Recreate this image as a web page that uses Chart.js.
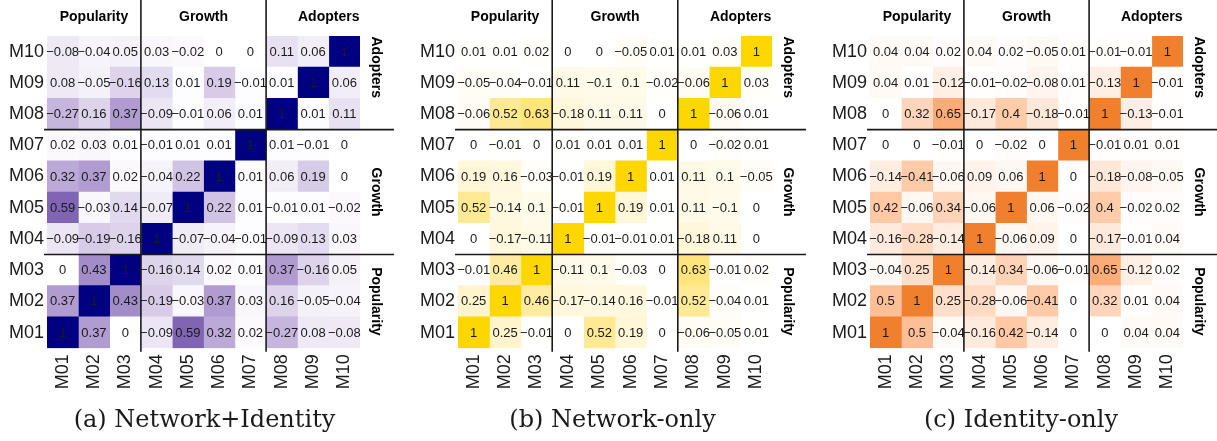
<!DOCTYPE html>
<html>
<head>
<meta charset="utf-8">
<script src="https://cdn.jsdelivr.net/npm/chart.js@4/dist/chart.umd.min.js"></script>
<style>
  html, body { margin: 0; padding: 0; background: #fff; }
  .panel { position: absolute; top: 0; width: 407px; height: 441px; }
</style>
</head>
<body>
<div class="panel" style="left:0px"><canvas id="chartA"></canvas></div>
<div class="panel" style="left:405px"><canvas id="chartB"></canvas></div>
<div class="panel" style="left:810px"><canvas id="chartC"></canvas></div>
<script>
// labels
const colLabels = ["M01", "M02", "M03", "M04", "M05", "M06", "M07", "M08", "M09", "M10"];
const rowLabels = colLabels.slice().reverse(); // top to bottom

// groups (column/row numbers). Adopters strip is centred as if it had a 4th slot
const groupNames = ["Popularity", "Growth", "Adopters"];
const groupFirst = [1, 4, 8];
const groupLast = [3, 7, 11];
const groupBreaks = [3.5, 7.5];

// correlation matrices, rows M01..M10, columns M01..M10
const netIdentity = [
  [1, 0.37, 0, -0.09, 0.59, 0.32, 0.02, -0.27, 0.08, -0.08],
  [0.37, 1, 0.43, -0.19, -0.03, 0.37, 0.03, 0.16, -0.05, -0.04],
  [0, 0.43, 1, -0.16, 0.14, 0.02, 0.01, 0.37, -0.16, 0.05],
  [-0.09, -0.19, -0.16, 1, -0.07, -0.04, -0.01, -0.09, 0.13, 0.03],
  [0.59, -0.03, 0.14, -0.07, 1, 0.22, 0.01, -0.01, 0.01, -0.02],
  [0.32, 0.37, 0.02, -0.04, 0.22, 1, 0.01, 0.06, 0.19, 0],
  [0.02, 0.03, 0.01, -0.01, 0.01, 0.01, 1, 0.01, -0.01, 0],
  [-0.27, 0.16, 0.37, -0.09, -0.01, 0.06, 0.01, 1, 0.01, 0.11],
  [0.08, -0.05, -0.16, 0.13, 0.01, 0.19, -0.01, 0.01, 1, 0.06],
  [-0.08, -0.04, 0.05, 0.03, -0.02, 0, 0, 0.11, 0.06, 1],
];

const networkOnly = [
  [1, 0.25, -0.01, 0, 0.52, 0.19, 0, -0.06, -0.05, 0.01],
  [0.25, 1, 0.46, -0.17, -0.14, 0.16, -0.01, 0.52, -0.04, 0.01],
  [-0.01, 0.46, 1, -0.11, 0.1, -0.03, 0, 0.63, -0.01, 0.02],
  [0, -0.17, -0.11, 1, -0.01, -0.01, 0.01, -0.18, 0.11, 0],
  [0.52, -0.14, 0.1, -0.01, 1, 0.19, 0.01, 0.11, -0.1, 0],
  [0.19, 0.16, -0.03, -0.01, 0.19, 1, 0.01, 0.11, 0.1, -0.05],
  [0, -0.01, 0, 0.01, 0.01, 0.01, 1, 0, -0.02, 0.01],
  [-0.06, 0.52, 0.63, -0.18, 0.11, 0.11, 0, 1, -0.06, 0.01],
  [-0.05, -0.04, -0.01, 0.11, -0.1, 0.1, -0.02, -0.06, 1, 0.03],
  [0.01, 0.01, 0.02, 0, 0, -0.05, 0.01, 0.01, 0.03, 1],
];

const identityOnly = [
  [1, 0.5, -0.04, -0.16, 0.42, -0.14, 0, 0, 0.04, 0.04],
  [0.5, 1, 0.25, -0.28, -0.06, -0.41, 0, 0.32, 0.01, 0.04],
  [-0.04, 0.25, 1, -0.14, 0.34, -0.06, -0.01, 0.65, -0.12, 0.02],
  [-0.16, -0.28, -0.14, 1, -0.06, 0.09, 0, -0.17, -0.01, 0.04],
  [0.42, -0.06, 0.34, -0.06, 1, 0.06, -0.02, 0.4, -0.02, 0.02],
  [-0.14, -0.41, -0.06, 0.09, 0.06, 1, 0, -0.18, -0.08, -0.05],
  [0, 0, -0.01, 0, -0.02, 0, 1, -0.01, 0.01, 0.01],
  [0, 0.32, 0.65, -0.17, 0.4, -0.18, -0.01, 1, -0.13, -0.01],
  [0.04, 0.01, -0.12, -0.01, -0.02, -0.08, 0.01, -0.13, 1, -0.01],
  [0.04, 0.04, 0.02, 0.04, 0.02, -0.05, 0.01, -0.01, -0.01, 1],
];

// ======================
// COLOUR (Lab interpolation white -> high)
// ======================
const lin = (c) => { c /= 255; return c <= 0.04045 ? c / 12.92 : Math.pow((c + 0.055) / 1.055, 2.4); };
const unlin = (c) => { const v = c <= 0.0031308 ? 12.92 * c : 1.055 * Math.pow(c, 1 / 2.4) - 0.055; return Math.round(Math.max(0, Math.min(1, v)) * 255); };

function hexToLab(hex) {
  const r = lin(parseInt(hex.slice(1, 3), 16));
  const g = lin(parseInt(hex.slice(3, 5), 16));
  const b = lin(parseInt(hex.slice(5, 7), 16));
  const f = (t) => (t > 0.008856 ? Math.cbrt(t) : 7.787 * t + 16 / 116);
  const fx = f((0.4124 * r + 0.3576 * g + 0.1805 * b) / 0.95047);
  const fy = f(0.2126 * r + 0.7152 * g + 0.0722 * b);
  const fz = f((0.0193 * r + 0.1192 * g + 0.9505 * b) / 1.08883);
  return [116 * fy - 16, 500 * (fx - fy), 200 * (fy - fz)];
}

function labToRgb([L, a, b]) {
  const fy = (L + 16) / 116, fx = fy + a / 500, fz = fy - b / 200;
  const inv = (t) => (t > 0.206893 ? t * t * t : (t - 16 / 116) / 7.787);
  const X = inv(fx) * 0.95047, Y = inv(fy), Z = inv(fz) * 1.08883;
  const r = 3.2406 * X - 1.5372 * Y - 0.4986 * Z;
  const g = -0.9689 * X + 1.8758 * Y + 0.0415 * Z;
  const bl = 0.0557 * X - 0.204 * Y + 1.057 * Z;
  return `rgb(${unlin(r)},${unlin(g)},${unlin(bl)})`;
}

function makeScale(high) {
  const lo = hexToLab("#ffffff"), hi = hexToLab(high);
  return (v) => {
    const t = Math.min(1, Math.abs(v));
    return labToRgb(lo.map((c, i) => c + (hi[i] - c) * t));
  };
}

const fmt = (v) => (v < 0 ? "\u2212" : "") + String(Math.abs(v));

// ======================
// OVERLAY PLUGIN (cell text, group lines, strips)
// ======================
const overlay = {
  id: "overlay",
  afterDatasetsDraw(chart) {
    const ctx = chart.ctx;
    ctx.save();
    ctx.font = "13px 'Liberation Sans', Arial, sans-serif";
    ctx.fillStyle = "#1a1a1a";
    ctx.textAlign = "center";
    ctx.textBaseline = "middle";
    chart.data.datasets.forEach((ds, j) => {
      chart.getDatasetMeta(j).data.forEach((bar, r) => {
        ctx.fillText(fmt(ds.values[r]), (bar.x + bar.base) / 2, bar.y + 0.5);
      });
    });
    ctx.restore();
  },
  afterDraw(chart) {
    const ctx = chart.ctx;
    const area = chart.chartArea;
    const xs = chart.scales.x;
    const ys = chart.scales.y;
    const rowPx = (k) => ys.getPixelForValue(10 - k);
    ctx.save();
    ctx.strokeStyle = "#1a1a1a";
    ctx.lineWidth = 1.6;
    groupBreaks.forEach((b) => {
      const x = xs.getPixelForValue(b);
      ctx.beginPath();
      ctx.moveTo(x, 0);
      ctx.lineTo(x, area.bottom + 3.5);
      ctx.stroke();
      const y = rowPx(b);
      ctx.beginPath();
      ctx.moveTo(area.left - 3, y);
      ctx.lineTo(area.right + 34, y);
      ctx.stroke();
    });

    ctx.fillStyle = "#000";
    ctx.font = "bold 14px 'Liberation Sans', Arial, sans-serif";
    ctx.textAlign = "center";
    ctx.textBaseline = "middle";
    groupNames.forEach((name, g) => {
      const mid = (groupFirst[g] + groupLast[g]) / 2;
      ctx.fillText(name, xs.getPixelForValue(mid), area.top - 19);
      ctx.save();
      ctx.translate(area.right + 16, rowPx(mid));
      ctx.rotate(Math.PI / 2);
      ctx.fillText(name, 0, 0);
      ctx.restore();
    });
    ctx.restore();
  },
};

// ======================
// CHARTS
// ======================
function buildChart(id, matrix, high, caption, padLeft, padRight) {
  const color = makeScale(high);
  const datasets = colLabels.map((c, j) => ({
    label: c,
    data: rowLabels.map(() => [j + 0.5, j + 1.5]),
    values: rowLabels.map((_, r) => matrix[9 - r][j]),
    backgroundColor: rowLabels.map((_, r) => color(matrix[9 - r][j])),
    borderWidth: 0,
    inflateAmount: 0.4,
    grouped: false,
    barPercentage: 1,
    categoryPercentage: 1,
  }));

  return new Chart(document.getElementById(id), {
    type: "bar",
    data: { labels: rowLabels, datasets },
    options: {
      indexAxis: "y",
      responsive: true,
      maintainAspectRatio: false,
      animation: false,
      events: [],
      layout: { padding: { left: padLeft, right: 0, top: 36, bottom: 0 } },
      scales: {
        x: {
          type: "linear",
          min: 0.5,
          max: 10.5,
          grid: { display: false, drawTicks: false },
          border: { display: false },
          afterBuildTicks: (s) => { s.ticks = colLabels.map((_, i) => ({ value: i + 1 })); },
          afterFit: (s) => { s.height = 58; },
          ticks: {
            autoSkip: false,
            minRotation: 90,
            maxRotation: 90,
            padding: 6,
            color: "#1a1a1a",
            font: { family: "'Liberation Sans', Arial, sans-serif", size: 18 },
            callback: (v) => colLabels[v - 1],
          },
        },
        y: {
          type: "category",
          offset: true,
          grid: { display: false, drawTicks: false },
          border: { display: false },
          afterFit: (s) => { s.width = 45; },
          ticks: {
            padding: 3,
            color: "#1a1a1a",
            font: { family: "'Liberation Sans', Arial, sans-serif", size: 18 },
          },
        },
        strip: {
          type: "category",
          position: "right",
          labels: rowLabels,
          grid: { display: false, drawTicks: false },
          border: { display: false },
          ticks: { display: false },
          afterFit: (s) => { s.width = padRight; },
        },
      },
      plugins: {
        legend: { display: false },
        tooltip: { enabled: false },
        title: {
          display: true,
          text: caption,
          position: "bottom",
          color: "#1a1a1a",
          font: { family: "'DejaVu Serif', serif", size: 24, weight: "normal", lineHeight: 1.2 },
          padding: { top: 0, bottom: 6 },
        },
      },
    },
    plugins: [overlay],
  });
}

window.addEventListener("load", () => {
  buildChart("chartA", netIdentity, "#000080", "(a) Network+Identity", 2, 47);
  buildChart("chartB", networkOnly, "#FFD700", "(b) Network-only", 8, 40);
  buildChart("chartC", identityOnly, "#F07F2E", "(c) Identity-only", 15, 34);
});
</script>
</body>
</html>
